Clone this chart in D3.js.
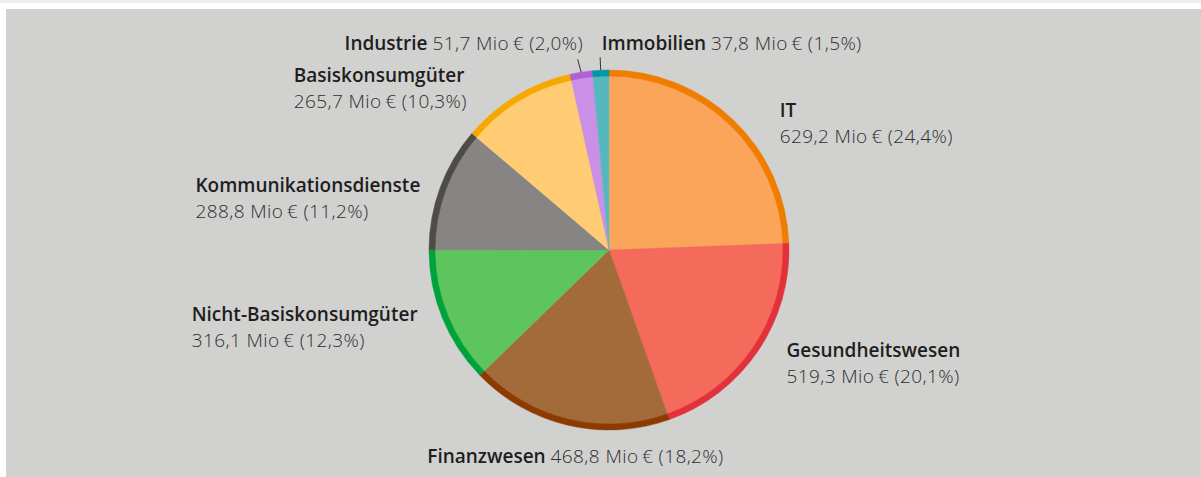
<!DOCTYPE html>
<html>
<head>
<meta charset="utf-8">
<script src="https://cdn.jsdelivr.net/npm/d3@7"></script>
<style>
	html, body { margin: 0; padding: 0; background: #fff; }
	svg { display: block; font-family: "Open Sans", "Noto Sans", sans-serif; }
</style>
</head>
<body>
<svg id="chart" width="1201" height="477"></svg>
<script>
// sectors, clockwise from 12 o'clock
const sectors = ['IT', 'Gesundheitswesen', 'Finanzwesen', 'Nicht-Basiskonsumgüter',
	'Kommunikationsdienste', 'Basiskonsumgüter', 'Industrie', 'Immobilien'];
const values = [629.2, 519.3, 468.8, 316.1, 288.8, 265.7, 51.7, 37.8];  // Mio €
const shares = [24.4, 20.1, 18.2, 12.3, 11.2, 10.3, 2.0, 1.5];        // %

const fills = ['#fba55a', '#f56b5b', '#a36b3a', '#5ec55e', '#878583', '#ffcc73', '#c990e6', '#55b8bd'];
const rims  = ['#f07d00', '#e3313b', '#8c3a00', '#00a23c', '#4f4b47', '#f7a800', '#b060d8', '#0097a6'];

const WIDTH = 1201;
const HEIGHT = 477;
const CX = 609;
const CY = 250;
const RADIUS = 180;
const RIM = 6;
const LABEL_RADIUS = 200;
const LINE_HEIGHT = 26;
const FONT_SIZE = 19;

// label layout: 'block' = name over value, 'inline' = one line; side decides anchoring
const labelLayout = [
	{type: 'block',  side: 'start',  dx: 32,  dy: 11},
	{type: 'block',  side: 'start',  dx: 12,  dy: -5},
	{type: 'inline', side: 'middle', dx: 12,  dy: 18},
	{type: 'block',  side: 'end',    dx: -6,  dy: -4},
	{type: 'block',  side: 'end',    dx: -1,  dy: 11},
	{type: 'block',  side: 'end',    dx: -39, dy: 3},
	{type: 'inline', side: 'end',    dx: 5,   dy: -2},
	{type: 'inline', side: 'start',  dx: 2,   dy: 0}
];

const fmt = d3.formatLocale({decimal: ',', thousands: '.', grouping: [3], currency: ['', ' €']}).format(',.1f');
const valueText = i => `${fmt(values[i])} Mio\u2009€ (${fmt(shares[i])}%)`;

const svg = d3.select('#chart');

// frame
svg.append('rect').attr('x', 0).attr('y', 0).attr('width', WIDTH).attr('height', 3).attr('fill', '#eeeeee');
svg.append('rect').attr('x', 6).attr('y', 9).attr('width', WIDTH - 6).attr('height', HEIGHT - 9).attr('fill', '#d1d1d0');

const data = sectors.map((name, i) => ({name, value: values[i], i}));

const pie = d3.pie().sort(null).value(d => d.value);
const arcs = pie(data);

const fillArc = d3.arc().innerRadius(0).outerRadius(RADIUS - RIM + 0.5);
const rimArc = d3.arc().innerRadius(RADIUS - RIM).outerRadius(RADIUS);
const labelArc = d3.arc().innerRadius(LABEL_RADIUS).outerRadius(LABEL_RADIUS);

const g = svg.append('g').attr('transform', `translate(${CX},${CY})`);

g.selectAll('path.slice')
	.data(arcs)
	.join('path')
	.attr('class', 'slice')
	.attr('d', fillArc)
	.attr('fill', d => fills[d.data.i])
	.attr('stroke', d => fills[d.data.i])
	.attr('stroke-width', 0.5);

g.selectAll('path.rim')
	.data(arcs)
	.join('path')
	.attr('class', 'rim')
	.attr('d', rimArc)
	.attr('fill', d => rims[d.data.i])
	.attr('stroke', d => rims[d.data.i])
	.attr('stroke-width', 0.5);

// leader lines for the two thin slices at the top
const midAngle = d => (d.startAngle + d.endAngle) / 2;
const polar = (a, r) => [r * Math.sin(a), -r * Math.cos(a)];

g.selectAll('line.leader')
	.data(arcs.filter(d => labelLayout[d.data.i].type === 'inline' && labelLayout[d.data.i].side !== 'middle'))
	.join('line')
	.attr('class', 'leader')
	.attr('x1', d => polar(midAngle(d), RADIUS)[0])
	.attr('y1', d => polar(midAngle(d), RADIUS)[1])
	.attr('x2', d => polar(midAngle(d) - (d.data.i === 6 ? 0.008 : 0), RADIUS + 13)[0])
	.attr('y2', d => polar(midAngle(d), RADIUS + 13)[1])
	.attr('stroke', '#333')
	.attr('stroke-width', 1);

// labels
g.selectAll('g.label')
	.data(arcs)
	.join('g')
	.attr('class', 'label')
	.each(function(d) {
		const lay = labelLayout[d.data.i];
		const [px, py] = labelArc.centroid(d);
		const x = px + lay.dx;
		const y = py + lay.dy;
		const sel = d3.select(this);

		if (lay.type === 'inline') {
			const t = sel.append('text')
				.attr('x', x)
				.attr('y', y)
				.attr('text-anchor', lay.side)
				.attr('font-size', FONT_SIZE);
			t.append('tspan').attr('font-weight', 600).attr('fill', '#1e1e1e').text(d.data.name + ' ');
			t.append('tspan').attr('font-weight', 300).attr('fill', '#2e2e2e')
				.attr('letter-spacing', 0.4).text(valueText(d.data.i));
		}
		else {
			const name = sel.append('text')
				.attr('y', y)
				.attr('font-size', FONT_SIZE)
				.attr('font-weight', 600)
				.attr('fill', '#1e1e1e')
				.text(d.data.name);
			const val = sel.append('text')
				.attr('y', y + LINE_HEIGHT)
				.attr('font-size', FONT_SIZE)
				.attr('font-weight', 300)
				.attr('fill', '#2e2e2e')
				.attr('letter-spacing', 0.4)
				.text(valueText(d.data.i));

			let left = x;
			if (lay.side === 'end') {
				const w = Math.max(name.node().getComputedTextLength(), val.node().getComputedTextLength());
				left = x - w;
			}
			name.attr('x', left);
			val.attr('x', left);
		}
	});
</script>
</body>
</html>
